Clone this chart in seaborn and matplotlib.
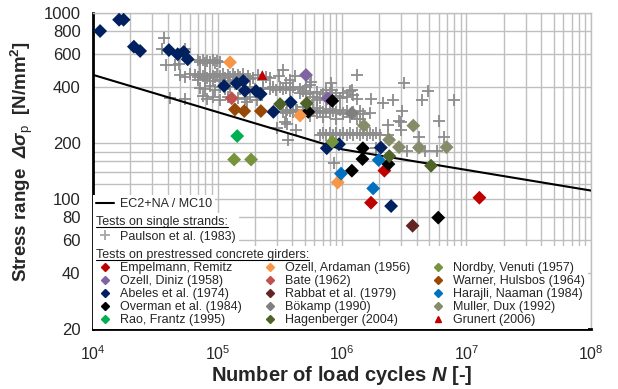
import numpy as np
import pandas as pd
import seaborn as sns
import matplotlib.pyplot as plt
from matplotlib.lines import Line2D
from matplotlib.ticker import FixedLocator, FixedFormatter, LogLocator, NullFormatter

sns.set_style("white")
plt.rcParams["font.family"] = ["Liberation Sans", "DejaVu Sans"]
plt.rcParams["mathtext.fontset"] = "custom"
plt.rcParams["mathtext.rm"] = "Liberation Sans"
plt.rcParams["mathtext.it"] = "Liberation Sans:italic"
plt.rcParams["mathtext.bf"] = "Liberation Sans:bold"
plt.rcParams["mathtext.bfit"] = "Liberation Sans:bold:italic"

# design curve EC2+NA / MC10 (strands)
ec2_n = [1e4, 1e6, 1e8]
ec2_s = [465, 185, 111]

# Paulson et al. (1983), single strands
paulson_n = [
    37200, 35800, 38500, 45600, 54800, 49100, 50000, 41500, 54800,
    69700, 72300, 76500, 79400, 82400, 87100, 92100, 95600, 99100, 105000,
    54800, 60100, 65900, 69700, 72300, 76500, 79400, 82400, 87100, 92100,
    95600, 99100, 105000, 111000, 115000, 121000, 126000, 133000, 138000,
    146000, 152000, 160000, 176000, 193000, 211000, 245000, 264000,
    69700, 79400, 92100, 105000, 121000, 138000, 182000, 232000,
    72300, 79400, 87100, 95600, 105000, 115000, 126000, 152000, 182000,
    200000, 232000, 264000, 279000, 295000, 318000, 336000, 355000, 382000,
    404000, 460000, 514000,
    76500, 82400, 92100, 105000, 121000, 146000, 166000, 182000, 206000, 172000,
    336000, 420000, 355000, 382000, 310000,
    361000, 430000, 300000, 365000, 425000, 346000, 359000,
    1.31e6, 3.13e6, 4.93e6, 4.39e6, 7.94e6, 2.56e6, 1.71e6, 2.12e6, 3.05e6,
    6.03e6, 2.85e6, 2.35e6, 4.19e6, 6.59e6, 2.98e6, 3.32e6, 4.64e6, 5.80e6,
    860000, 564000, 810000, 1.20e6, 825000, 553000, 460000, 1.87e6, 1.40e6, 3.00e6,
    666000, 704000, 744000, 801000, 847000, 895000, 964000, 1.02e6, 1.10e6,
    1.16e6, 1.22e6, 1.32e6, 1.40e6, 1.47e6, 1.59e6, 1.68e6, 1.77e6, 1.88e6,
    2.02e6, 2.34e6,
    336000, 355000, 382000, 404000, 435000, 486000, 514000, 553000, 585000,
    630000, 666000, 704000, 744000, 801000, 847000, 895000, 964000, 1.02e6,
    1.10e6, 1.22e6, 1.40e6, 1.68e6,
    486000, 514000, 553000, 585000, 630000, 666000, 704000, 744000, 801000,
    895000, 964000, 1.02e6, 1.10e6, 1.22e6, 1.32e6, 630000, 744000, 1.16e6,
    486000, 553000, 630000, 704000, 801000, 895000, 1.02e6, 1.16e6, 1.32e6, 1.47e6,
]
paulson_s = [
    737, 644, 525, 525, 644, 530, 464, 350, 345,
    558, 545, 560, 540, 555, 545, 558, 540, 550, 545,
    455, 470, 462, 450, 470, 458, 466, 448, 472, 460,
    450, 468, 458, 470, 448, 462, 455, 470, 450,
    465, 455, 470, 458, 448, 462, 455, 447,
    436, 440, 432, 438, 430, 436, 440, 436,
    395, 390, 405, 385, 398, 390, 400, 392, 398,
    388, 395, 390, 402, 385, 398, 388, 395, 385,
    398, 390, 400,
    358, 345, 352, 342, 355, 348, 345, 352, 341, 333,
    494, 460, 421, 436, 460,
    301, 301, 240, 208, 235, 260, 252,
    464, 420, 382, 341, 341, 341, 344, 327, 298,
    263, 263, 250, 216, 216, 235, 182, 182, 182,
    156, 428, 420, 386, 386, 410, 370, 187, 268, 260,
    222, 226, 220, 227, 221, 226, 220, 227, 221,
    226, 220, 227, 221, 226, 220, 227, 221, 226,
    221, 222,
    295, 290, 298, 292, 300, 290, 298, 293, 300,
    290, 297, 292, 299, 290, 297, 292, 300, 290,
    297, 292, 296, 290,
    380, 365, 372, 355, 378, 350, 365, 345, 372,
    358, 348, 370, 352, 362, 345, 340, 385, 380,
    312, 280, 308, 275, 305, 270, 285, 275, 268, 285,
]

# tests on prestressed concrete girders
empelmann_n = [2.19e6, 1.71e6, 1.27e7]
empelmann_s = [142, 95.5, 101.6]
ozell_diniz_n = [5.14e5, 7.68e5]
ozell_diniz_s = [464, 348]
abeles_n = [11400, 16200, 17600, 21300, 23900, 40700, 47900, 53500, 57600,
            112800, 142600, 161000, 166000, 204000, 222000, 281000, 387000,
            754000, 946000, 2.05e6, 2.48e6]
abeles_s = [800, 920, 920, 659, 625, 632, 600, 617, 564,
            405, 419, 431, 382, 381, 367, 294, 331,
            187.5, 197, 189, 91.6]
overman_n = [836000, 536000, 1.47e6, 1.46e6, 2.36e6, 1.20e6, 5.93e6]
overman_s = [337, 294, 187.5, 164, 154, 142, 79.4]
rao_n = [144000]
rao_s = [218]
ozell_ardaman_n = [126000, 460000, 923000]
ozell_ardaman_s = [543, 281, 122.6]
bate_n = [130000]
bate_s = [348]
rabbat_n = [3.69e6]
rabbat_s = [71.8]
boekamp_n = [1.20e6]
boekamp_s = [290]
hagenberger_n = [318000, 520000, 2.40e6, 5.19e6]
hagenberger_s = [324, 327, 170, 151]
nordby_n = [136000, 186000, 836000]
nordby_s = [163, 163, 203]
warner_n = [138000, 164000, 223000]
warner_s = [303, 297, 297]
harajli_n = [982000, 1.97e6, 1.78e6]
harajli_s = [137, 162, 114]
muller_n = [1.50e6, 2.39e6, 2.87e6, 3.74e6, 4.15e6, 6.92e6]
muller_s = [248, 208, 190, 248, 189, 190]
grunert_n = [229000]
grunert_s = [464]

studies = [
    ("Empelmann, Remitz", empelmann_n, empelmann_s, "#C00000", "D"),
    ("Ozell, Diniz (1958)", ozell_diniz_n, ozell_diniz_s, "#8064A2", "D"),
    ("Abeles et al. (1974)", abeles_n, abeles_s, "#002060", "D"),
    ("Overman et al. (1984)", overman_n, overman_s, "#000000", "D"),
    ("Rao, Frantz (1995)", rao_n, rao_s, "#00B050", "D"),
    ("Ozell, Ardaman (1956)", ozell_ardaman_n, ozell_ardaman_s, "#F79646", "D"),
    ("Bate (1962)", bate_n, bate_s, "#C0504D", "D"),
    ("Rabbat et al. (1979)", rabbat_n, rabbat_s, "#632523", "D"),
    ("Bökamp (1990)", boekamp_n, boekamp_s, "#7F7F7F", "D"),
    ("Hagenberger (2004)", hagenberger_n, hagenberger_s, "#4F6228", "D"),
    ("Nordby, Venuti (1957)", nordby_n, nordby_s, "#77933C", "D"),
    ("Warner, Hulsbos (1964)", warner_n, warner_s, "#974706", "D"),
    ("Harajli, Naaman (1984)", harajli_n, harajli_s, "#0070C0", "D"),
    ("Muller, Dux (1992)", muller_n, muller_s, "#858C6A", "D"),
    ("Grunert (2006)", grunert_n, grunert_s, "#C00000", "^"),
]

rows = []
for name, ns, ss, c, m in studies:
    for n, s in zip(ns, ss):
        rows.append({"study": name, "N": n, "S": s})
df = pd.DataFrame(rows)
palette = {name: c for name, _, _, c, _ in studies}
markers = {name: m for name, _, _, _, m in studies}

fig = plt.figure(figsize=(6.18, 3.89), dpi=100)
ax = fig.add_axes([0.1505, 0.1542, 0.8058, 0.8124])
ax.set_xscale("log")
ax.set_yscale("log")

sns.scatterplot(x=paulson_n, y=paulson_s, marker="+", color="#8C8C8C",
                s=75, linewidth=1.3, ax=ax, zorder=3)
sns.lineplot(x=ec2_n, y=ec2_s, color="black", linewidth=1.5, ax=ax, zorder=4)
sns.scatterplot(data=df, x="N", y="S", hue="study", style="study",
                palette=palette, markers=markers, s=50, linewidth=0,
                legend=False, ax=ax, zorder=5)

ax.set_xlim(1e4, 1e8)
ax.set_ylim(20, 1000)

yticks = [20, 40, 60, 80, 100, 200, 400, 600, 800, 1000]
ax.yaxis.set_major_locator(FixedLocator(yticks))
ax.yaxis.set_major_formatter(FixedFormatter([str(v) for v in yticks]))
ax.yaxis.set_minor_locator(FixedLocator([120, 140, 160, 180]))
ax.yaxis.set_minor_formatter(NullFormatter())
ax.xaxis.set_major_locator(LogLocator(base=10, numticks=10))
ax.xaxis.set_minor_locator(LogLocator(base=10, subs=range(2, 10), numticks=20))
ax.xaxis.set_minor_formatter(NullFormatter())

ax.grid(which="both", color="#BFBFBF", linewidth=1.0)
ax.set_axisbelow(True)
ax.tick_params(axis="y", which="both", length=0, labelsize=12, pad=9)
ax.tick_params(axis="x", which="both", direction="in", length=3,
               color="#999999", labelsize=11.5, pad=11)

for side in ["top", "right"]:
    ax.spines[side].set_color("#BFBFBF")
    ax.spines[side].set_linewidth(1.0)
for side in ["left", "bottom"]:
    ax.spines[side].set_color("black")
    ax.spines[side].set_linewidth(2.0)

ax.set_xlabel(r"Number of load cycles $\mathbfit{N}$ [-]", fontsize=14.5,
              fontweight="bold", labelpad=1)
ax.set_ylabel(r"Stress range  $\mathbfit{\Delta\sigma}_{\mathrm{p}}$  [N/mm$^{\mathbf{2}}$]",
              fontsize=13.5, fontweight="bold")
ax.yaxis.set_label_coords(-0.117, 0.53)

# legends
leg_kw = dict(frameon=True, facecolor="white", edgecolor="none", framealpha=1,
              fancybox=False, fontsize=9, title_fontsize=9, borderaxespad=0,
              borderpad=0.25, labelspacing=0.08, handlelength=1.4,
              handletextpad=0.5, alignment="left")

study_handles = [Line2D([], [], marker=m, ls="none", color=c, markersize=4.5)
                 for _, _, _, c, m in studies]
study_labels = [name for name, _, _, _, _ in studies]
leg_b = ax.legend(study_handles, study_labels, ncol=3, loc="lower left",
                  bbox_to_anchor=(0, 0), columnspacing=1.55,
                  title="Tests on prestressed concrete girders:", **leg_kw)
ax.add_artist(leg_b)

fig.canvas.draw()
inv = ax.transAxes.inverted()
top_b = inv.transform(leg_b.get_window_extent().p1)[1]

paulson_handle = Line2D([], [], marker="+", ls="none", color="#A6A6A6",
                        markersize=7, markeredgewidth=1.3)
leg_a1 = ax.legend([paulson_handle], ["Paulson et al. (1983)"], loc="lower left",
                   bbox_to_anchor=(0, top_b), labelspacing=0.2,
                   title="Tests on single strands:",
                   **{k: v for k, v in leg_kw.items() if k != "labelspacing"})
ax.add_artist(leg_a1)

fig.canvas.draw()
top_a1 = inv.transform(leg_a1.get_window_extent().p1)[1]

ec2_handle = Line2D([], [], color="black", linewidth=1.5)
leg_a0 = ax.legend([ec2_handle], ["EC2+NA / MC10"], loc="lower left",
                   bbox_to_anchor=(0, top_a1), **leg_kw)

# underline the two group headers
fig.canvas.draw()
r = fig.canvas.get_renderer()
finv = fig.transFigure.inverted()
for leg in [leg_b, leg_a1]:
    bb = leg.get_title().get_window_extent(r)
    (x0, y0), (x1, _) = finv.transform([[bb.x0, bb.y0 + 1], [bb.x1, bb.y0 + 1]])
    fig.add_artist(Line2D([x0, x1], [y0, y0], color="black", linewidth=0.8,
                          transform=fig.transFigure, zorder=10))

fig.savefig("out.png", dpi=100)
